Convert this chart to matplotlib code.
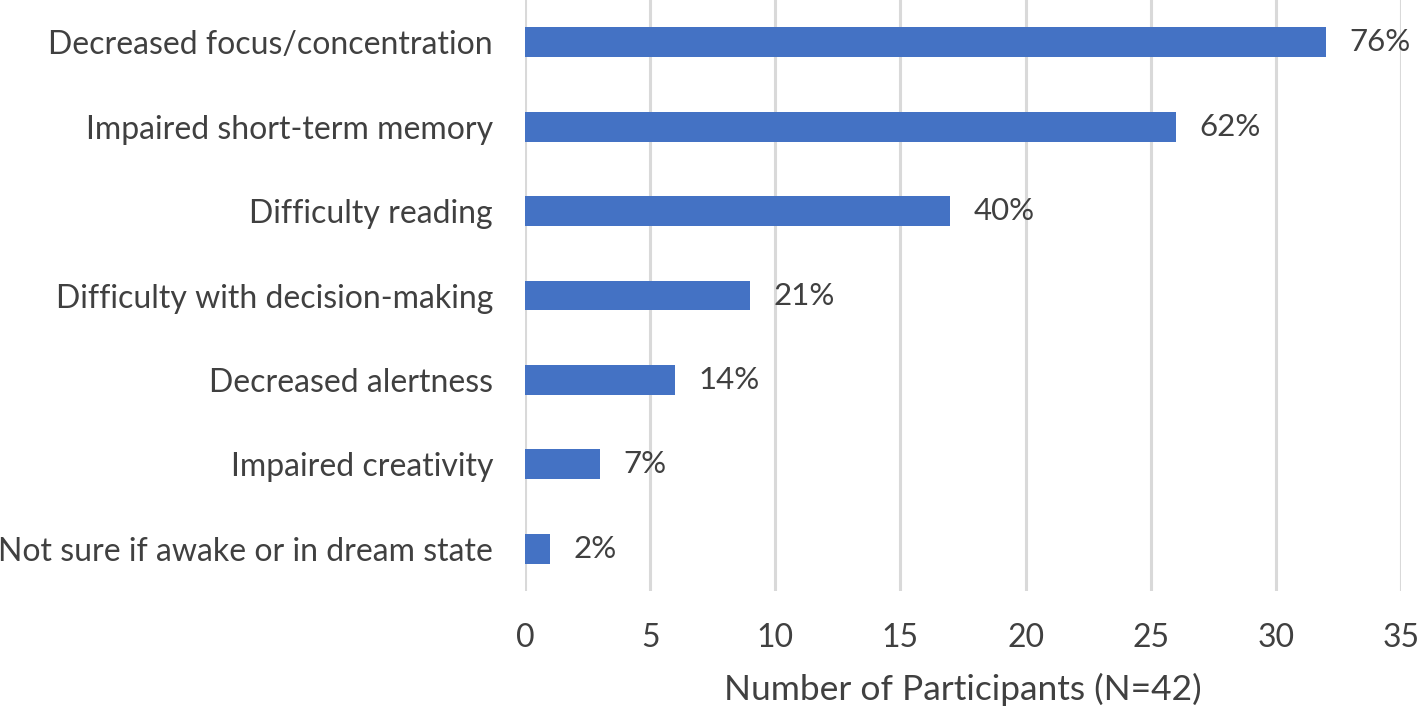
import matplotlib
matplotlib.use("Agg")
import matplotlib.pyplot as plt

categories = [
    "Decreased focus/concentration",
    "Impaired short-term memory",
    "Difficulty reading",
    "Difficulty with decision-making",
    "Decreased alertness",
    "Impaired creativity",
    "Not sure if awake or in dream state",
]
counts = [32, 26, 17, 9, 6, 3, 1]
pct_labels = ["76%", "62%", "40%", "21%", "14%", "7%", "2%"]
x_ticks = [0, 5, 10, 15, 20, 25, 30, 35]
x_label = "Number of Participants (N=42)"

text_color = "#404040"
plt.rcParams["font.family"] = ["Lato", "DejaVu Sans"]

fig = plt.figure(figsize=(14.18, 7.11), dpi=100)
ax = fig.add_axes([525 / 1418, 1 - 591 / 711, (1401 - 525) / 1418, 591 / 711])

y = list(range(len(categories)))
ax.barh(y, counts, height=0.355, color="#4472C4", zorder=3)
ax.set_ylim(len(categories) - 0.5, -0.5)
ax.set_xlim(0, 35)
ax.set_xticks(x_ticks)
ax.set_yticks(y)
ax.set_yticklabels(categories)

for yi, c, lab in zip(y, counts, pct_labels):
    ax.annotate(lab, (c, yi), xytext=(17, 0), textcoords="offset points",
                va="center", ha="left", fontsize=22.5, color=text_color)

ax.grid(axis="x", color="#d9d9d9", linewidth=2.2, zorder=0)
for s in ax.spines.values():
    s.set_visible(False)
ax.tick_params(axis="both", length=0, labelsize=23, labelcolor=text_color)
ax.tick_params(axis="y", pad=23)
ax.tick_params(axis="x", pad=23)
ax.set_xlabel(x_label, fontsize=25.5, color=text_color, labelpad=14)

fig.savefig("out.png", dpi=100)
